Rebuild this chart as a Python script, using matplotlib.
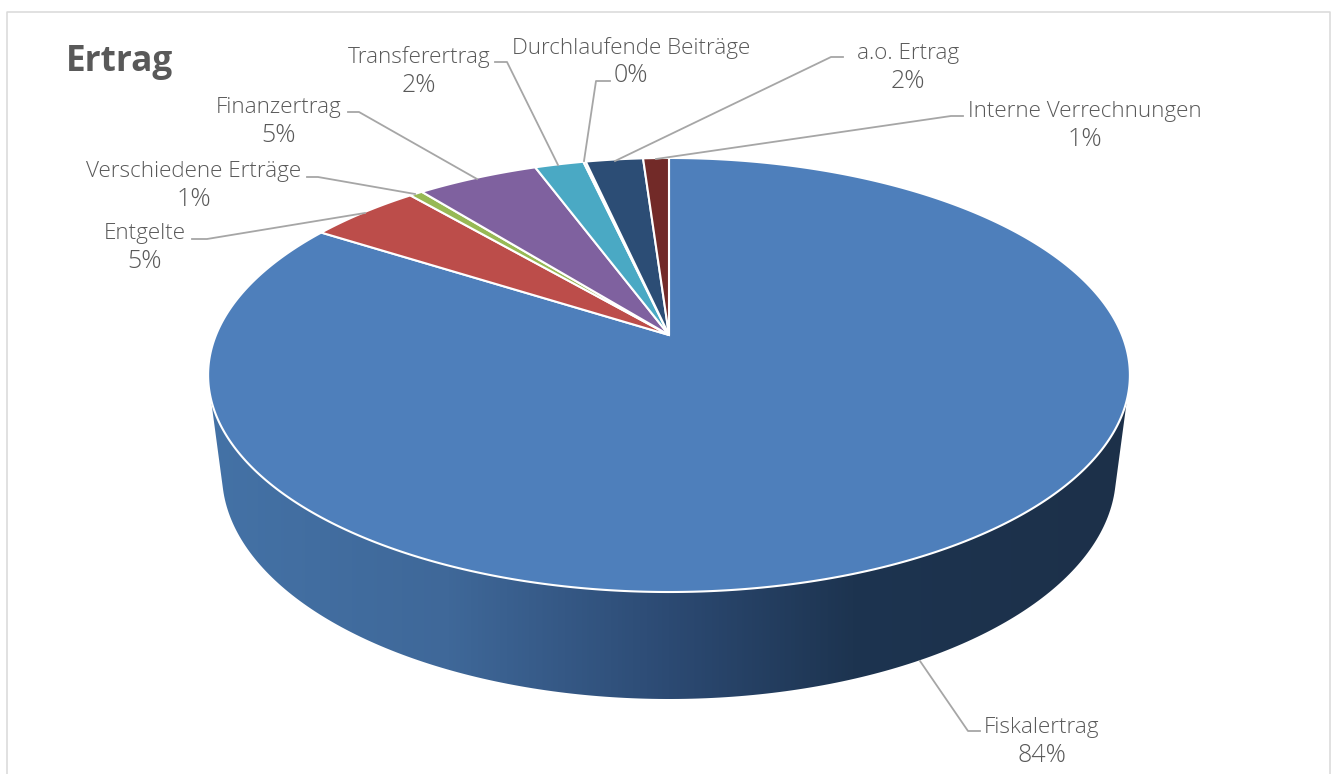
import numpy as np
import matplotlib
matplotlib.use("Agg")
import matplotlib.pyplot as plt
from matplotlib.colors import LinearSegmentedColormap
from matplotlib.patches import Polygon

# Werte aus dem Bild gelesen (Winkel der Segmente), Prozent
names = ["Fiskalertrag", "Entgelte", "Verschiedene Erträge", "Finanzertrag",
         "Transferertrag", "Durchlaufende Beiträge", "a.o. Ertrag", "Interne Verrechnungen"]
values = [84.02, 4.7, 0.55, 5.1, 2.05, 0.1, 2.4, 1.08]
colors = ["#4e7fbb", "#bc4d4a", "#97b955", "#7f619f", "#4aa9c4", "#2c4d75", "#2c4d75", "#722a28"]

# Layout in Pixeln
label_xy = [(1042, 741), (145, 247), (194, 186), (279, 122),
            (419, 71), (631, 62), (908, 68), (1085, 125)]
leaders = [[(920, 661), (968, 731), (980, 731)],
           [(192, 239), (207, 239), (365, 213)],
           [(307, 177), (318, 177), (415, 194)],
           [(348, 112), (359, 112), (477, 179)],
           [(495, 62), (507, 62), (558, 165)],
           [(610, 81), (596, 81), (584, 161)],
           [(843, 57), (831, 57), (615, 161)],
           [(963, 116), (951, 116), (656, 159)]]

W, H = 1336, 774
CX, APEX_Y = 669, 335
P_B, P_C, P_K = -147.9, 0.1843, 453.0   # Perspektive der Deckfläche


def project(ang):
    # ang im Uhrzeigersinn von oben gemessen
    u, v = np.sin(ang), np.cos(ang)
    return CX + P_K * u / (1 + P_C * v), (APEX_Y + P_B * v) / (1 + P_C * v)


fig = plt.figure(figsize=(W / 100, H / 100), dpi=100)
ax = fig.add_axes([0, 0, 1, 1])
ax.set_xlim(0, W)
ax.set_ylim(H, 0)
ax.axis("off")

# Rahmen, unten offen
ax.plot([7, 7, 1330, 1330], [H + 5, 12, 12, H + 5], color="#d9d9d9", lw=1.1, zorder=1)

# Seitenwand
t_top = np.radians(np.linspace(6.6, 173.4, 200))
t_bot = np.radians(np.linspace(176, 4, 200))
wall_x = np.r_[669 + 461 * np.cos(t_top), 669 + 447 * np.cos(t_bot)]
wall_y = np.r_[375 + 217 * np.sin(t_top), 474 + 225 * np.sin(t_bot)]
wall = Polygon(np.c_[wall_x, wall_y], closed=True, facecolor="none", edgecolor="none")
ax.add_patch(wall)
wall_cmap = LinearSegmentedColormap.from_list(
    "wall", [(0, "#4472a6"), (0.26, "#3f6899"), (0.5, "#2c4a73"), (0.7, "#1d3450"), (1, "#1c3049")])
grad = np.linspace(0, 1, 512).reshape(1, -1)
img = ax.imshow(grad, extent=(208, 1130, 705, 380), aspect="auto", cmap=wall_cmap, zorder=2)
img.set_clip_path(wall)
ax.set_xlim(0, W)
ax.set_ylim(H, 0)

# Deckfläche
fractions = np.array(values) / sum(values)
edges = np.r_[0, np.cumsum(fractions)] * 2 * np.pi
for i in range(len(values)):
    a = np.linspace(edges[i], edges[i + 1], max(3, int(fractions[i] * 720)))
    x, y = project(a)
    ax.fill(np.r_[CX, x], np.r_[APEX_Y, y], facecolor=colors[i], edgecolor="white",
            lw=1.5, joinstyle="miter", zorder=3)

# Beschriftung: Name und Prozent getrennt, das % ist im Original breiter
for i in range(len(names)):
    xs, ys = zip(*leaders[i])
    ax.plot(xs, ys, color="#a6a6a6", lw=1.3, zorder=4)
    ax.text(label_xy[i][0], label_xy[i][1] - 14, names[i], ha="center", va="center",
            family="Open Sans", weight=300, fontsize=16.2, color="#595959", zorder=5)
    ax.text(label_xy[i][0], label_xy[i][1] + 14, f"{values[i]:.0f}%", ha="center", va="center",
            family="Open Sans", weight=300, fontsize=18, color="#595959", zorder=5)

ax.text(66, 62, "Ertrag", ha="left", va="center", family="Open Sans", weight="bold",
        fontsize=25.3, color="#595959", zorder=5)

fig.savefig("out.png", dpi=100, facecolor="white")
